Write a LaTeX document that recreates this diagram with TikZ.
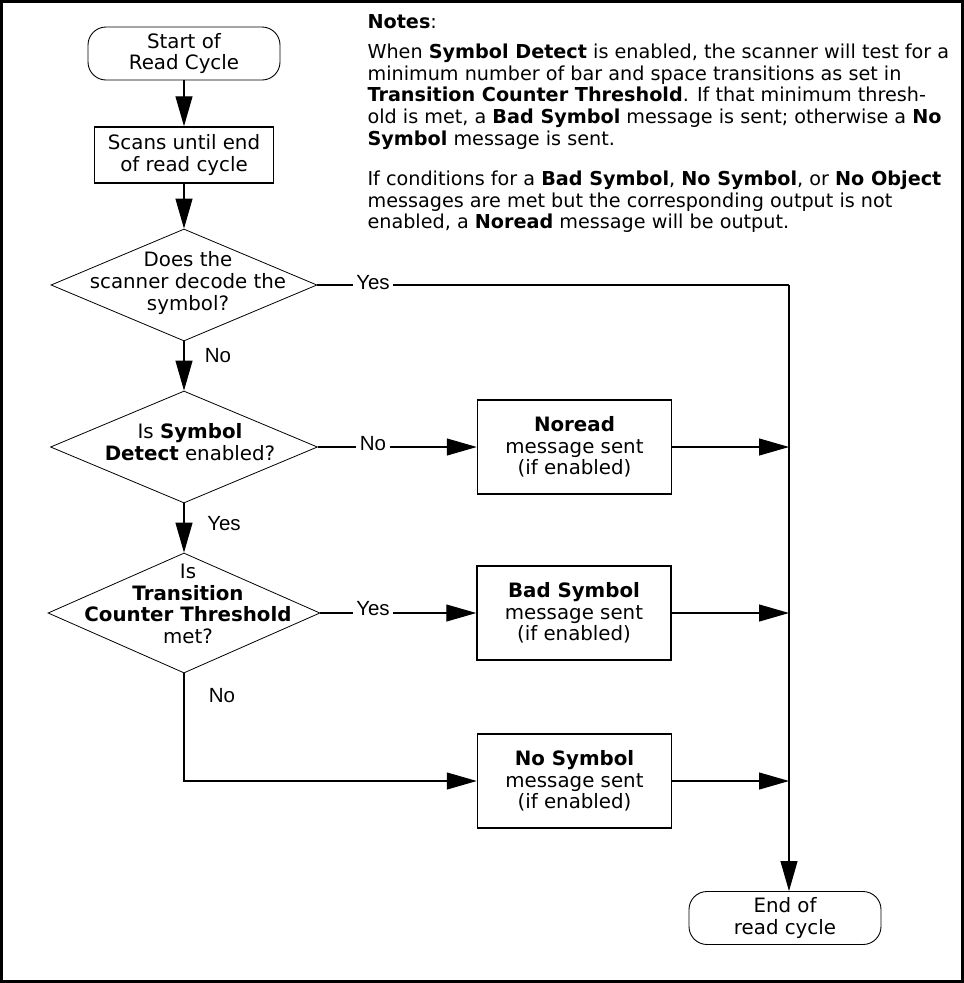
\documentclass[tikz,border=0pt]{standalone}
\usepackage{fontspec}
\setmainfont{DejaVu Sans}
\newfontfamily\answerfont{Liberation Sans}
\usetikzlibrary{shapes.geometric, arrows.meta, calc}

\tikzset{
    terminal/.style={draw, rounded corners=18pt, minimum width=192pt, minimum height=53pt,
        align=center, inner sep=0pt, line width=0.9pt},
    process/.style={draw, minimum width=194pt, minimum height=94pt, align=center,
        inner sep=0pt, line width=1.5pt},
    decision/.style={draw, diamond, inner sep=0pt, line width=0.8pt},
    answer/.style={font=\fontsize{20.5}{22}\answerfont, inner sep=3pt},
    notetext/.style={anchor=north west, inner sep=0pt, align=left,
        font=\fontsize{19.2}{21.6}\selectfont},
}

\begin{document}
\begin{tikzpicture}[x=1pt, y=-1pt, line width=1.1pt, >={Triangle[length=30pt,width=17pt]},
    font=\fontsize{19.8}{21.7}\selectfont]
    \useasboundingbox (0,0) rectangle (964,983);

    % Frame
    \draw[line width=2.8pt] (1.5,1.5) rectangle (962.5,981.5);

    % Notes
    \node[notetext] (noteshead) at (367,14) {\textbf{Notes}:};
    \node[notetext] (notesone) at (367,43.5) {When \textbf{Symbol Detect} is enabled, the scanner will test for a\\
        minimum number of bar and space transitions as set in\\
        \textbf{Transition Counter Threshold}. If that minimum thresh-\\
        old is met, a \textbf{Bad Symbol} message is sent; otherwise a \textbf{No}\\
        \textbf{Symbol} message is sent.};
    \node[notetext] (notestwo) at (367,170.5) {If conditions for a \textbf{Bad Symbol}, \textbf{No Symbol}, or \textbf{No Object}\\
        messages are met but the corresponding output is not\\
        enabled, a \textbf{Noread} message will be output.};

    % Main column
    \node[terminal] (start) at (184,53.5) {Start of\\Read Cycle};
    \node[process, minimum width=179pt, minimum height=56pt] (scan) at (184,155) {Scans until end\\of read cycle};
    \node[decision, minimum width=266pt, minimum height=112pt] (decode) at (184,285) {};
    \node[align=center, inner sep=0pt] (decodetxt) at (188,283) {Does the\\scanner decode the\\symbol?};
    \node[decision, minimum width=267pt, minimum height=112pt] (detect) at (184,447) {};
    \node[align=center, inner sep=0pt] (detecttxt) at (190,442) {Is \textbf{Symbol}\\\textbf{Detect} enabled?};
    \node[decision, minimum width=272pt, minimum height=120pt] (thresh) at (184,613) {};
    \node[align=center, inner sep=0pt] (threshtxt) at (188,604) {Is\\\textbf{Transition}\\\textbf{Counter Threshold}\\met?};

    % Message boxes
    \node[process] (noread) at (574.5,447) {\textbf{Noread}\\message sent\\(if enabled)};
    \node[process] (badsym) at (574,613) {\textbf{Bad Symbol}\\message sent\\(if enabled)};
    \node[process] (nosym) at (574.5,781) {\textbf{No Symbol}\\message sent\\(if enabled)};
    \node[terminal] (finish) at (785,918) {End of\\read cycle};

    % Answers
    \node[answer] (yesdecode) at (373,283) {Yes};
    \node[answer] (nodecode) at (218,356) {No};
    \node[answer] (nodetect) at (373,444) {No};
    \node[answer] (yesdetect) at (224,524) {Yes};
    \node[answer] (yesthresh) at (373,609) {Yes};
    \node[answer] (nothresh) at (222,696) {No};
    \coordinate (bus) at (789,285);

    % Connectors
    \draw[->] (start) -- (scan);
    \draw[->] (scan) -- (decode);
    \draw[->] (decode) -- (detect);
    \draw[->] (detect) -- (thresh);
    \draw[->] (thresh.south) |- (nosym.west);
    \draw (decode.east) -- (decode.east -| yesdecode.west);
    \draw (decode.east -| yesdecode.east) -- (bus);
    \draw[->] (bus) -- (bus |- finish.north);
    \draw (detect.east) -- (detect.east -| nodetect.west);
    \draw[->] (detect.east -| nodetect.east) -- (noread.west);
    \draw (thresh.east) -- (thresh.east -| yesthresh.west);
    \draw[->] (thresh.east -| yesthresh.east) -- (badsym.west);
    \foreach \msg in {noread, badsym, nosym} {
        \draw[->] (\msg.east) -- (\msg.east -| bus);
    }

\end{tikzpicture}
\end{document}
